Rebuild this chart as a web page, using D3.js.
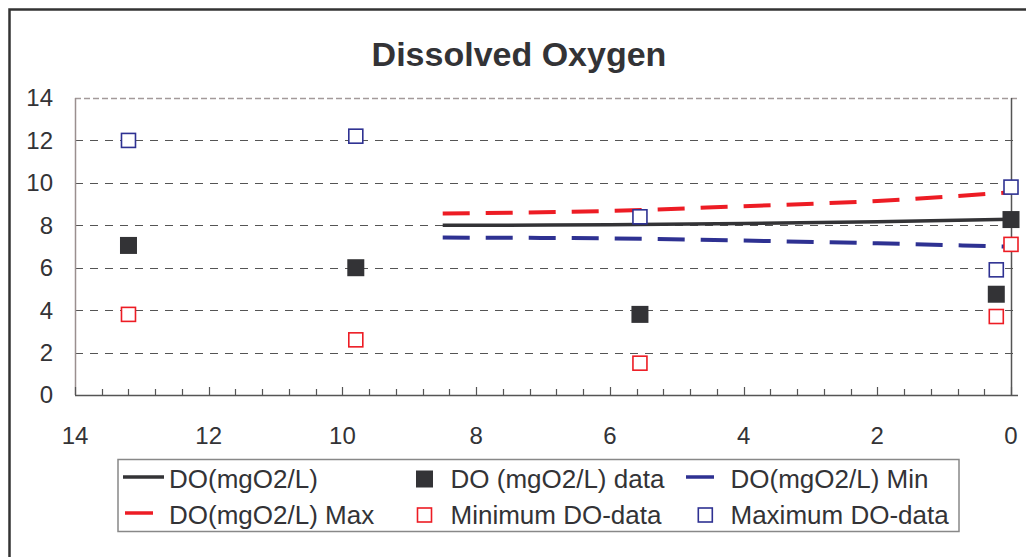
<!DOCTYPE html>
<html>
<head>
<meta charset="utf-8">
<script src="https://cdn.jsdelivr.net/npm/d3@7"></script>
<style>
  html, body { margin: 0; padding: 0; background: #fff; }
  svg { display: block; font-family: "Liberation Sans", Arial, sans-serif; }
</style>
</head>
<body>
<svg id="chart" width="1026" height="557"></svg>
<script>
// ---- Data ----
const title = "Dissolved Oxygen";
const sampleX = [13.2, 9.8, 5.55, 0.22, 0];
const doData = [7.05, 6.0, 3.8, 4.75, 8.27];
const minData = [3.8, 2.6, 1.5, 3.7, 7.1];
const maxData = [12.0, 12.2, 8.4, 5.9, 9.8];
const modelX = [8.5, 6, 4, 2, 0];
const doModel = [8.0, 8.02, 8.08, 8.17, 8.29];
const doMax = [8.55, 8.68, 8.9, 9.15, 9.56];
const doMin = [7.42, 7.38, 7.28, 7.15, 6.99];
const yTicks = [0, 2, 4, 6, 8, 10, 12, 14];
const xTicks = [14, 12, 10, 8, 6, 4, 2, 0];
const legendLabels = ["DO(mgO2/L)", "DO (mgO2/L) data", "DO(mgO2/L) Min",
                      "DO(mgO2/L) Max", "Minimum DO-data", "Maximum DO-data"];

// ---- Styles ----
const cBlack = "#333336", cRed = "#ed1c24", cBlue = "#2e3192", cText = "#333336";

const svg = d3.select("#chart");
const L = 75, R = 1011, T = 98, B = 395, gridR = 1018;

const x = d3.scaleLinear().domain([14, 0]).range([L, R]);
const y = d3.scaleLinear().domain([0, 14]).range([B, T]);

// outer frame
svg.append("path").attr("d", `M9.5,${557+5} L9.5,9.5 L${1026+5},9.5`)
  .attr("fill", "none").attr("stroke", "#333").attr("stroke-width", 2.5);

// title
svg.append("text").attr("x", 519).attr("y", 66).attr("text-anchor", "middle")
  .attr("font-size", 34).attr("font-weight", "bold").attr("fill", cText).text(title);

// gridlines
svg.append("g").selectAll("line").data(yTicks.filter(d => d > 0)).join("line")
  .attr("x1", L).attr("x2", gridR)
  .attr("y1", d => Math.round(y(d)) + 0.5).attr("y2", d => Math.round(y(d)) + 0.5)
  .attr("stroke", d => d === 14 ? "#a39a9a" : "#555")
  .attr("stroke-width", d => d === 14 ? 1.5 : 1.2)
  .attr("stroke-dasharray", d => d === 14 ? "6,3" : "8,7");

// left axis line
svg.append("line").attr("x1", L + 0.5).attr("x2", L + 0.5).attr("y1", T).attr("y2", B)
  .attr("stroke", "#9a8f8f").attr("stroke-width", 1.5);
// right vertical line
svg.append("line").attr("x1", R + 0.5).attr("x2", R + 0.5).attr("y1", T).attr("y2", B)
  .attr("stroke", "#555").attr("stroke-width", 1.5);

// y tick labels
svg.append("g").selectAll("text").data(yTicks).join("text")
  .attr("x", 53).attr("y", d => y(d)).attr("dy", "0.35em")
  .attr("text-anchor", "end").attr("font-size", 24).attr("fill", cText)
  .text(d => d);

// x axis (ticks inward)
const minorTicks = d3.range(0, 14.0001, 0.4).map(v => +v.toFixed(1));
const xAxisG = svg.append("g");
xAxisG.append("line").attr("x1", L).attr("x2", gridR).attr("y1", B + 0.5).attr("y2", B + 0.5)
  .attr("stroke", "#555").attr("stroke-width", 1.5);
xAxisG.selectAll("line.minor").data(minorTicks).join("line").attr("class", "minor")
  .attr("x1", d => Math.round(x(d)) + 0.5).attr("x2", d => Math.round(x(d)) + 0.5)
  .attr("y1", B).attr("y2", d => (Math.abs(d / 2 - Math.round(d / 2)) < 1e-6) ? B - 8 : B - 6)
  .attr("stroke", "#555").attr("stroke-width", 1.2);
xAxisG.selectAll("text").data(xTicks).join("text")
  .attr("x", d => x(d)).attr("y", 444)
  .attr("text-anchor", "middle").attr("font-size", 24).attr("fill", cText)
  .text(d => d);

// model lines
const line = d3.line().x(d => x(d[0])).y(d => y(d[1])).curve(d3.curveMonotoneX);
svg.append("path").datum(modelX.map((v, i) => [v, doMax[i]]))
  .attr("d", line).attr("fill", "none").attr("stroke", cRed).attr("stroke-width", 4)
  .attr("stroke-dasharray", "27,16");
svg.append("path").datum(modelX.map((v, i) => [v, doMin[i]]))
  .attr("d", line).attr("fill", "none").attr("stroke", cBlue).attr("stroke-width", 4)
  .attr("stroke-dasharray", "27,16");
svg.append("path").datum(modelX.map((v, i) => [v, doModel[i]]))
  .attr("d", line).attr("fill", "none").attr("stroke", cBlack).attr("stroke-width", 3.5);

// data markers
function openSquares(vals, color) {
  svg.append("g").selectAll("rect").data(sampleX.map((v, i) => [v, vals[i]])).join("rect")
    .attr("x", d => x(d[0]) - 7).attr("y", d => y(d[1]) - 7)
    .attr("width", 14).attr("height", 14)
    .attr("fill", "#fff").attr("stroke", color).attr("stroke-width", 1.6);
}
openSquares(minData, cRed);
openSquares(maxData, cBlue);
svg.append("g").selectAll("rect").data(sampleX.map((v, i) => [v, doData[i]])).join("rect")
  .attr("x", d => x(d[0]) - 8.5).attr("y", d => y(d[1]) - 8.5)
  .attr("width", 17).attr("height", 17).attr("fill", cBlack);

// legend
const lg = svg.append("g");
lg.append("rect").attr("x", 118).attr("y", 459.5).attr("width", 841).attr("height", 72)
  .attr("fill", "#fff").attr("stroke", "#888").attr("stroke-width", 1.5);
const rowY = [479, 515];
const textX = [169, 450.5, 730.5];
const items = [
  {type: "line", color: cBlack, x1: 123, x2: 164},
  {type: "fill", color: cBlack},
  {type: "line", color: cBlue, x1: 686, x2: 714},
  {type: "line", color: cRed, x1: 125, x2: 153},
  {type: "open", color: cRed},
  {type: "open", color: cBlue}
];
const symX = [0, 424.5, 0, 0, 424.5, 705.3];
items.forEach((it, i) => {
  const r = Math.floor(i / 3), c = i % 3;
  const cy = rowY[r];
  if (it.type === "line") {
    lg.append("line").attr("x1", it.x1).attr("x2", it.x2).attr("y1", cy - 2).attr("y2", cy - 2)
      .attr("stroke", it.color).attr("stroke-width", 3.5);
  } else if (it.type === "fill") {
    lg.append("rect").attr("x", symX[i] - 8.5).attr("y", cy - 8.5).attr("width", 17).attr("height", 17)
      .attr("fill", it.color);
  } else {
    lg.append("rect").attr("x", symX[i] - 7).attr("y", cy - 7).attr("width", 14).attr("height", 14)
      .attr("fill", "#fff").attr("stroke", it.color).attr("stroke-width", 1.6);
  }
  lg.append("text").attr("x", textX[c]).attr("y", cy + 8.5)
    .attr("font-size", 26).attr("fill", cText).text(legendLabels[i]);
});
</script>
</body>
</html>
